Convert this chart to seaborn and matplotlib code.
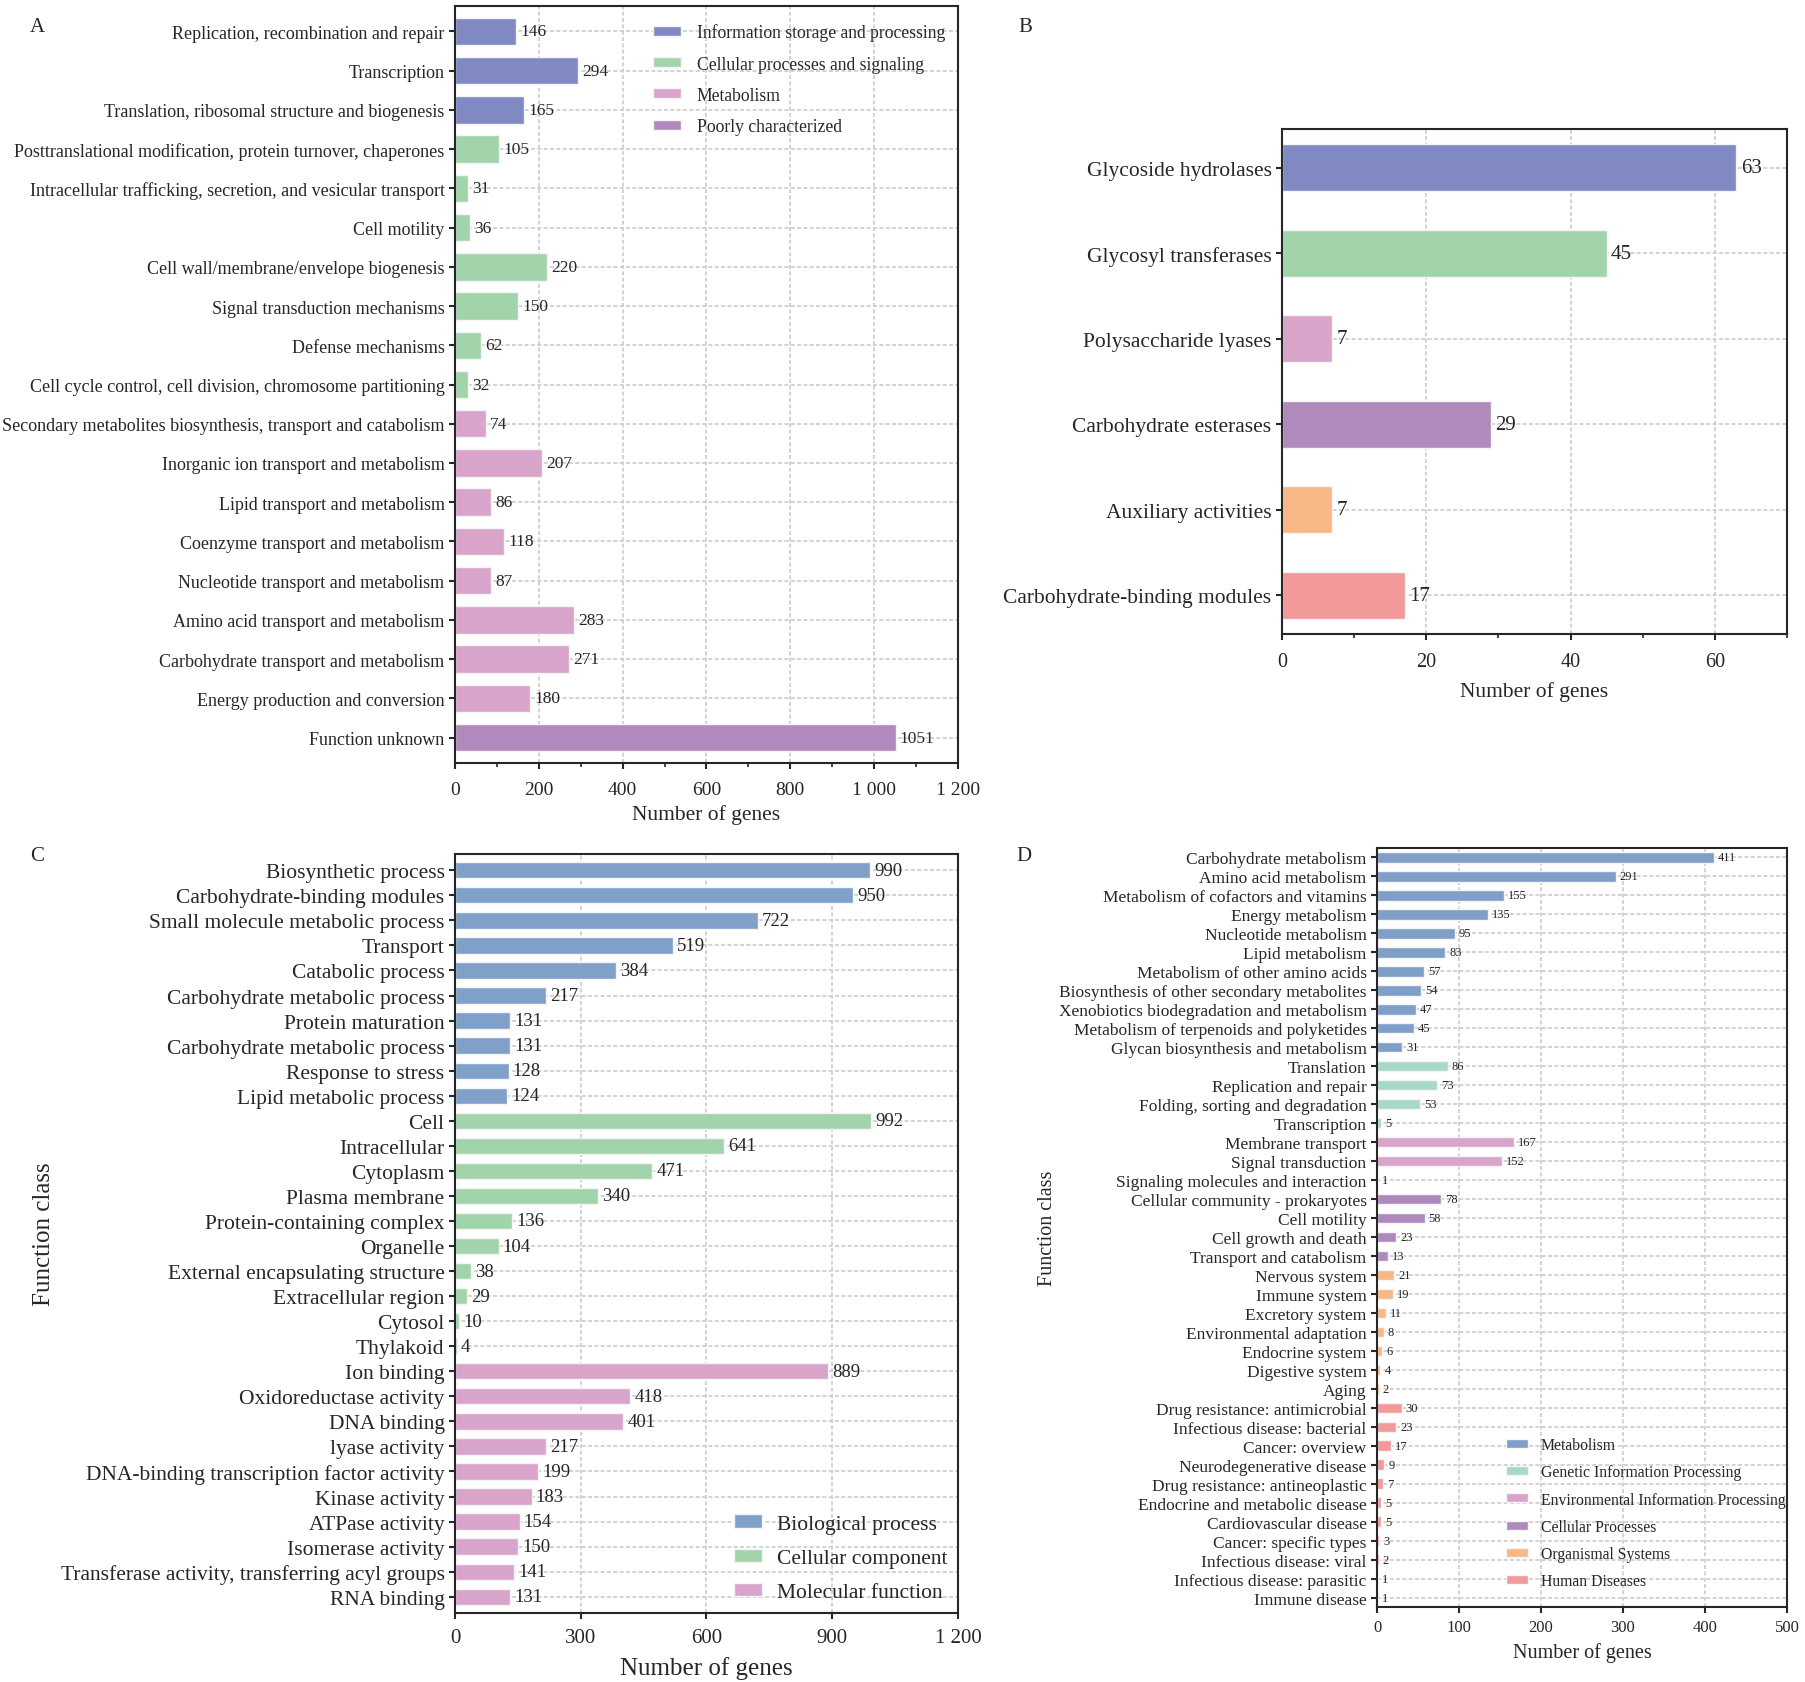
import matplotlib
matplotlib.use("Agg")
import matplotlib.pyplot as plt
from matplotlib.patches import Patch
from matplotlib.ticker import MultipleLocator
import pandas as pd
import seaborn as sns

# ---- A: COG classes
cog_terms = [
    "Replication, recombination and repair",
    "Transcription",
    "Translation, ribosomal structure and biogenesis",
    "Posttranslational modification, protein turnover, chaperones",
    "Intracellular trafficking, secretion, and vesicular transport",
    "Cell motility",
    "Cell wall/membrane/envelope biogenesis",
    "Signal transduction mechanisms",
    "Defense mechanisms",
    "Cell cycle control, cell division, chromosome partitioning",
    "Secondary metabolites biosynthesis, transport and catabolism",
    "Inorganic ion transport and metabolism",
    "Lipid transport and metabolism",
    "Coenzyme transport and metabolism",
    "Nucleotide transport and metabolism",
    "Amino acid transport and metabolism",
    "Carbohydrate transport and metabolism",
    "Energy production and conversion",
    "Function unknown",
]
cog_counts = [146, 294, 165, 105, 31, 36, 220, 150, 62, 32, 74, 207, 86, 118, 87, 283, 271, 180, 1051]
cog_group_names = ["Information storage and processing", "Cellular processes and signaling",
                   "Metabolism", "Poorly characterized"]
cog_groups = [cog_group_names[0]] * 3 + [cog_group_names[1]] * 7 + [cog_group_names[2]] * 8 + [cog_group_names[3]]
cog_colors = ["#8089C1", "#A2D4AB", "#D9A4C9", "#B08ABD"]
cog_ticks = [0, 200, 400, 600, 800, 1000, 1200]
cog_ticklabels = ["0", "200", "400", "600", "800", "1 000", "1 200"]

# ---- B: CAZy classes
cazy_terms = ["Glycoside hydrolases", "Glycosyl transferases", "Polysaccharide lyases",
              "Carbohydrate esterases", "Auxiliary activities", "Carbohydrate-binding modules"]
cazy_counts = [63, 45, 7, 29, 7, 17]
cazy_colors = ["#8089C1", "#A2D4AB", "#D8A4C9", "#B08ABD", "#F8B784", "#F29999"]
cazy_ticks = [0, 20, 40, 60]

# ---- C: GO terms
go_terms = [
    "Biosynthetic process", "Carbohydrate-binding modules", "Small molecule metabolic process",
    "Transport", "Catabolic process", "Carbohydrate metabolic process", "Protein maturation",
    "Carbohydrate metabolic process", "Response to stress", "Lipid metabolic process",
    "Cell", "Intracellular", "Cytoplasm", "Plasma membrane", "Protein-containing complex",
    "Organelle", "External encapsulating structure", "Extracellular region", "Cytosol", "Thylakoid",
    "Ion binding", "Oxidoreductase activity", "DNA binding", "lyase activity",
    "DNA-binding transcription factor activity", "Kinase activity", "ATPase activity",
    "Isomerase activity", "Transferase activity, transferring acyl groups", "RNA binding",
]
go_counts = [990, 950, 722, 519, 384, 217, 131, 131, 128, 124,
             992, 641, 471, 340, 136, 104, 38, 29, 10, 4,
             889, 418, 401, 217, 199, 183, 154, 150, 141, 131]
go_group_names = ["Biological process", "Cellular component", "Molecular function"]
go_groups = [go_group_names[0]] * 10 + [go_group_names[1]] * 10 + [go_group_names[2]] * 10
go_colors = ["#7FA0C8", "#A2D4AB", "#D8A4C9"]
go_ticks = [0, 300, 600, 900, 1200]
go_ticklabels = ["0", "300", "600", "900", "1 200"]

# ---- D: KEGG pathways
kegg_terms = [
    "Carbohydrate metabolism", "Amino acid metabolism", "Metabolism of cofactors and vitamins",
    "Energy metabolism", "Nucleotide metabolism", "Lipid metabolism", "Metabolism of other amino acids",
    "Biosynthesis of other secondary metabolites", "Xenobiotics biodegradation and metabolism",
    "Metabolism of terpenoids and polyketides", "Glycan biosynthesis and metabolism",
    "Translation", "Replication and repair", "Folding, sorting and degradation", "Transcription",
    "Membrane transport", "Signal transduction", "Signaling molecules and interaction",
    "Cellular community - prokaryotes", "Cell motility", "Cell growth and death", "Transport and catabolism",
    "Nervous system", "Immune system", "Excretory system", "Environmental adaptation",
    "Endocrine system", "Digestive system", "Aging",
    "Drug resistance: antimicrobial", "Infectious disease: bacterial", "Cancer: overview",
    "Neurodegenerative disease", "Drug resistance: antineoplastic", "Endocrine and metabolic disease",
    "Cardiovascular disease", "Cancer: specific types", "Infectious disease: viral",
    "Infectious disease: parasitic", "Immune disease",
]
kegg_counts = [411, 291, 155, 135, 95, 83, 57, 54, 47, 45, 31,
               86, 73, 53, 5,
               167, 152, 1,
               78, 58, 23, 13,
               21, 19, 11, 8, 6, 4, 2,
               30, 23, 17, 9, 7, 5, 5, 3, 2, 1, 1]
kegg_group_names = ["Metabolism", "Genetic Information Processing", "Environmental Information Processing",
                    "Cellular Processes", "Organismal Systems", "Human Diseases"]
kegg_groups = ([kegg_group_names[0]] * 11 + [kegg_group_names[1]] * 4 + [kegg_group_names[2]] * 3
               + [kegg_group_names[3]] * 4 + [kegg_group_names[4]] * 7 + [kegg_group_names[5]] * 11)
kegg_colors = ["#7F9FC8", "#A8D8CA", "#D8A4C9", "#AF89BE", "#F8B784", "#F29A9A"]
kegg_ticks = [0, 100, 200, 300, 400, 500]

sns.set_style("ticks")
plt.rcParams["font.family"] = ["Liberation Serif", "DejaVu Serif"]
plt.rcParams["axes.edgecolor"] = "#262626"
plt.rcParams["xtick.color"] = "#262626"
plt.rcParams["ytick.color"] = "#262626"
plt.rcParams["text.color"] = "#262626"
plt.rcParams["axes.labelcolor"] = "#262626"


def draw(ax, terms, counts, groups, group_names, colors, width, margin, tick_fs, value_fs):
    df = pd.DataFrame({"row": [f"r{i}" for i in range(len(terms))], "count": counts, "group": groups})
    sns.barplot(data=df, x="count", y="row", hue="group", order=list(df["row"]), hue_order=group_names,
                palette=dict(zip(group_names, colors)), dodge=False, width=width, orient="h",
                saturation=1, edgecolor="#f4f4f4", linewidth=1, legend=False, ax=ax)
    ax.set_yticks(range(len(terms)))
    ax.set_yticklabels(terms, fontsize=tick_fs)
    for cont in ax.containers:
        ax.bar_label(cont, fontsize=value_fs, padding=3)
    ax.set_ylim(len(terms) - 1 + margin, -margin)
    ax.set_ylabel("")
    ax.grid(True, linestyle=(0, (2.4, 1.4)), color="#cccccc", linewidth=1.2)
    ax.set_axisbelow(True)
    for s in ax.spines.values():
        s.set_linewidth(1.5)
    ax.tick_params(axis="both", width=1.5, length=4)


def legend(ax, names, colors, fs, **kw):
    handles = [Patch(facecolor=c, edgecolor="#f4f4f4", label=n) for n, c in zip(names, colors)]
    ax.legend(handles=handles, frameon=False, fontsize=fs, **kw)


fig = plt.figure(figsize=(18.06, 16.83), dpi=100)
W, H = 1806, 1683


def place(l, t, r, b):
    return fig.add_axes([l / W, 1 - b / H, (r - l) / W, (b - t) / H])


# A
axA = place(455, 7, 958, 764)
draw(axA, cog_terms, cog_counts, cog_groups, cog_group_names, cog_colors, 0.7, 0.65, 13, 12.5)
axA.set_xlim(0, 1200)
axA.set_xticks(cog_ticks)
axA.set_xticklabels(cog_ticklabels, fontsize=14)
axA.xaxis.set_minor_locator(MultipleLocator(100))
axA.tick_params(axis="x", which="major", pad=9)
axA.tick_params(axis="x", which="minor", width=1.2, length=3)
axA.set_xlabel("Number of genes", fontsize=15.5, labelpad=4)
legend(axA, cog_group_names, cog_colors, 12.7, loc="upper right", bbox_to_anchor=(1, 0.994),
       handlelength=1.55, handleheight=0.5, handletextpad=0.9, labelspacing=0.8,
       borderaxespad=0, borderpad=0.74)

# B
axB = place(1282, 130, 1787, 635)
draw(axB, cazy_terms, cazy_counts, cazy_terms, cazy_terms, cazy_colors, 0.55, 0.45, 15.5, 15)
axB.set_xlim(0, 70)
axB.set_xticks(cazy_ticks)
axB.tick_params(axis="x", which="major", labelsize=14.5, pad=9)
axB.xaxis.set_minor_locator(MultipleLocator(10))
axB.tick_params(axis="x", which="minor", width=1.2, length=3)
axB.set_xlabel("Number of genes", fontsize=15.5, labelpad=7)

# C
axC = place(455, 855, 958, 1614)
draw(axC, go_terms, go_counts, go_groups, go_group_names, go_colors, 0.65, 0.65, 15.5, 13.5)
axC.set_xlim(0, 1200)
axC.set_xticks(go_ticks)
axC.set_xticklabels(go_ticklabels, fontsize=15)
axC.tick_params(axis="x", pad=7)
axC.set_xlabel("Number of genes", fontsize=18, labelpad=6)
axC.set_ylabel("Function class", fontsize=18)
axC.yaxis.set_label_coords(-0.796, 0.5)
legend(axC, go_group_names, go_colors, 15.5, loc="lower right", handlelength=1.3, handleheight=0.6,
       handletextpad=0.7, labelspacing=0.69, borderaxespad=0.1, borderpad=0.4)

# D
axD = place(1377, 849, 1787, 1608)
draw(axD, kegg_terms, kegg_counts, kegg_groups, kegg_group_names, kegg_colors, 0.55, 0.5, 12.5, 9)
axD.set_xlim(0, 500)
axD.set_xticks(kegg_ticks)
axD.tick_params(axis="x", labelsize=12, pad=5)
axD.set_xlabel("Number of genes", fontsize=14.5, labelpad=5)
axD.set_ylabel("Function class", fontsize=14.5)
axD.yaxis.set_label_coords(-0.781, 0.5)
legend(axD, kegg_group_names, kegg_colors, 11.3, loc="lower right", bbox_to_anchor=(1.005, 0.018),
       handlelength=1.4, handleheight=0.5, handletextpad=0.8, labelspacing=0.72,
       borderaxespad=0.0, borderpad=0.25)

for letter, x, y in [("A", 37, 27), ("B", 1025, 27), ("C", 37, 857), ("D", 1024, 857)]:
    fig.text(x / W, 1 - y / H, letter, fontsize=15, ha="center", va="center")

fig.savefig("out.png", dpi=100)
